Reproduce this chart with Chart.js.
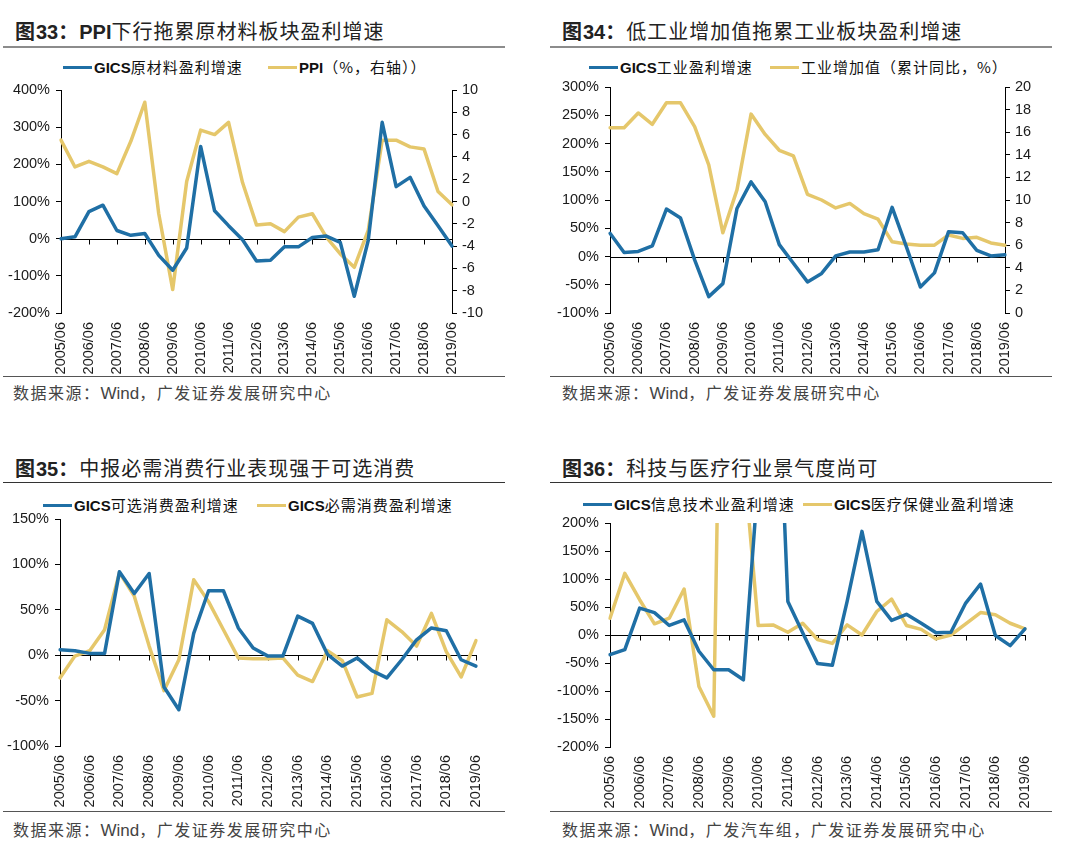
<!DOCTYPE html>
<html><head><meta charset="utf-8">
<script src="https://cdn.jsdelivr.net/npm/chart.js@4.4.1/dist/chart.umd.min.js"></script>
<style>
body{margin:0;background:#fff;width:1080px;height:856px;position:relative;overflow:hidden;font-family:"Liberation Sans",Arial,sans-serif;}
.t{position:absolute;font-size:20px;line-height:24px;color:#222;white-space:nowrap;font-family:"Noto Sans CJK SC",sans-serif;letter-spacing:1px;}
.t .b{font-weight:bold;}
.t .a{font-family:"Liberation Sans",Arial,sans-serif;font-weight:bold;letter-spacing:0;}
.rule{position:absolute;height:0;}
.lg{position:absolute;font-size:15px;line-height:20px;color:#111;white-space:nowrap;font-family:"Noto Sans CJK SC",sans-serif;letter-spacing:1px;}
.lg .a{font-family:"Liberation Sans",Arial,sans-serif;font-weight:bold;letter-spacing:0;}
.sw{display:inline-block;width:29px;height:3px;vertical-align:middle;margin-right:2px;position:relative;top:-1px;}
.src{position:absolute;font-size:16px;line-height:20px;color:#444;white-space:nowrap;font-family:"Noto Sans CJK SC",sans-serif;letter-spacing:1.5px;}
.src .a{font-family:"Liberation Sans",Arial,sans-serif;letter-spacing:0;font-size:17px;}
canvas{position:absolute;}
</style></head><body>

<div class="t" style="left:15px;top:19px"><span class="b">图</span><span class="a">33</span><span class="b">：</span><span class="a">PPI</span>下行拖累原材料板块盈利增速</div>
<div class="rule" style="left:3px;top:46px;width:502px;border-top:2px solid #8c8c8c"></div>
<div class="lg" style="left:63px;top:57px"><span class="sw" style="background:#1F6FA5"></span><span class="a">GICS</span>原材料盈利增速</div>
<div class="lg" style="left:268px;top:57px"><span class="sw" style="background:#E5C76B"></span><span class="a">PPI</span>（%，右轴））</div>
<div class="rule" style="left:3px;top:376px;width:502px;border-top:1px solid #555"></div>
<div class="src" style="left:13px;top:382px">数据来源：<span class="a">Wind</span>，广发证券发展研究中心</div>

<div class="t" style="left:562px;top:19px"><span class="b">图</span><span class="a">34</span><span class="b">：</span>低工业增加值拖累工业板块盈利增速</div>
<div class="rule" style="left:550px;top:46px;width:502px;border-top:2px solid #8c8c8c"></div>
<div class="lg" style="left:589px;top:57px"><span class="sw" style="background:#1F6FA5"></span><span class="a">GICS</span>工业盈利增速</div>
<div class="lg" style="left:770px;top:57px"><span class="sw" style="background:#E5C76B"></span>工业增加值（累计同比，%）</div>
<div class="rule" style="left:550px;top:376px;width:502px;border-top:1px solid #555"></div>
<div class="src" style="left:562px;top:382px">数据来源：<span class="a">Wind</span>，广发证券发展研究中心</div>

<div class="t" style="left:15px;top:456px"><span class="b">图</span><span class="a">35</span><span class="b">：</span>中报必需消费行业表现强于可选消费</div>
<div class="rule" style="left:3px;top:482px;width:502px;border-top:1px solid #333"></div>
<div class="lg" style="left:43px;top:495px"><span class="sw" style="background:#1F6FA5"></span><span class="a">GICS</span>可选消费盈利增速</div>
<div class="lg" style="left:257px;top:495px"><span class="sw" style="background:#E5C76B"></span><span class="a">GICS</span>必需消费盈利增速</div>
<div class="rule" style="left:3px;top:811px;width:502px;border-top:1px solid #555"></div>
<div class="src" style="left:13px;top:819px">数据来源：<span class="a">Wind</span>，广发证券发展研究中心</div>

<div class="t" style="left:562px;top:456px"><span class="b">图</span><span class="a">36</span><span class="b">：</span>科技与医疗行业景气度尚可</div>
<div class="rule" style="left:550px;top:482px;width:502px;border-top:1px solid #333"></div>
<div class="lg" style="left:583px;top:494px"><span class="sw" style="background:#1F6FA5"></span><span class="a">GICS</span>信息技术业盈利增速</div>
<div class="lg" style="left:803px;top:494px"><span class="sw" style="background:#E5C76B"></span><span class="a">GICS</span>医疗保健业盈利增速</div>
<div class="rule" style="left:550px;top:811px;width:502px;border-top:1px solid #555"></div>
<div class="src" style="left:562px;top:819px">数据来源：<span class="a">Wind</span>，广发汽车组，广发证券发展研究中心</div>

<canvas id="c1" width="500" height="303" style="left:0px;top:75px"></canvas>
<canvas id="c2" width="505" height="306" style="left:545px;top:72px"></canvas>
<canvas id="c3" width="505" height="307" style="left:0px;top:504px"></canvas>
<canvas id="c4" width="515" height="304" style="left:545px;top:508px"></canvas>

<script>
// ---- data ----
const categories = ["2005/06","2005/12","2006/06","2006/12","2007/06","2007/12","2008/06","2008/12","2009/06","2009/12",
  "2010/06","2010/12","2011/06","2011/12","2012/06","2012/12","2013/06","2013/12","2014/06","2014/12",
  "2015/06","2015/12","2016/06","2016/12","2017/06","2017/12","2018/06","2018/12","2019/06"];

// 图33
const materialsProfit = [0,5,73,90,22,9,14,-45,-85,-25,248,75,35,-3,-60,-58,-22,-22,3,7,-10,-155,-5,313,140,165,88,35,-20];
const ppi = [5.5,3.1,3.6,3.1,2.5,5.4,8.9,-1.1,-7.9,1.8,6.4,6.0,7.1,1.7,-2.1,-2.0,-2.7,-1.4,-1.1,-3.2,-4.7,-5.9,-2.6,5.5,5.5,4.9,4.7,0.9,-0.3];
// 图34
const industrialProfit = [41,7,9,19,84,68,-6,-71,-48,85,132,97,21,-12,-45,-30,1,8,8,12,87,18,-54,-29,44,42,11,1,3];
const industrialValueAdded = [16.4,16.4,17.7,16.7,18.6,18.6,16.5,13.1,7.1,10.9,17.6,15.8,14.4,13.9,10.5,10.0,9.3,9.7,8.8,8.3,6.3,6.1,6.0,6.0,6.9,6.6,6.7,6.2,6.0];
// 图35
const discretionaryProfit = [6,5,2,2,92,68,90,-35,-60,24,71,71,30,8,-1,-1,43,35,1,-12,-3,-17,-25,-5,17,30,27,-5,-12];
const staplesProfit = [-25,-1,5,28,91,65,10,-39,-5,83,59,28,-3,-4,-4,-3,-22,-29,5,-6,-46,-42,39,26,10,46,4,-24,16];
// 图36
const itProfit = [-35,-26,48,40,17,27,-29,-62,-62,-80,280,700,60,4,-51,-54,60,185,60,26,37,21,4,5,57,91,-1,-19,11];
const healthProfit = [30,110,63,20,30,82,-92,-145,1400,320,17,18,5,21,-8,-15,18,0,42,64,17,10,-7,0,20,40,36,21,11];

// tick settings
const axes = {
  c1: {left:[-200,400,100], right:[-10,10,2]},
  c2: {left:[-100,300,50], right:[0,20,2]},
  c3: {left:[-100,150,50]},
  c4: {left:[-200,200,50]}
};

const BLUE = '#1F6FA5', YELLOW = '#E5C76B';

const zeroLine = {
  id:'zeroLine',
  beforeDatasetsDraw(chart){
    const {ctx, chartArea:a, scales} = chart;
    const x = scales.x, y = scales.y;
    const py = Math.round(y.getPixelForValue(0)) + 0.5;
    ctx.save();
    ctx.strokeStyle = '#000'; ctx.lineWidth = 1;
    ctx.beginPath();
    ctx.moveTo(a.left, py); ctx.lineTo(a.right + 1, py);
    for (let i = 0; i < categories.length; i += 2) {
      const px = Math.round(x.getPixelForValue(i)) + 0.5;
      ctx.moveTo(px, py); ctx.lineTo(px, py + 5);
    }
    ctx.stroke();
    ctx.restore();
  }
};

const tickFont = {family:'Arial, "Liberation Sans", sans-serif', size:14.5};

function makeChart(id, s1, s2, leftW, rightW, padTop, rightPad) {
  const ax = axes[id];
  const scales = {
    x: {
      type:'category', offset:false,
      grid:{display:false, drawTicks:false}, border:{display:false},
      ticks:{autoSkip:false, maxRotation:90, minRotation:90, padding:9, font:tickFont, color:'#1a1a1a',
        callback:(v,i)=> i%2===0 ? categories[i] : ''},
      afterFit: s => { s.height = 65; }
    },
    y: {
      position:'left', min:ax.left[0], max:ax.left[1],
      grid:{drawOnChartArea:false, drawTicks:true, tickLength:5, color:'#000'},
      border:{display:true, color:'#000', width:1},
      ticks:{stepSize:ax.left[2], padding:6, font:tickFont, color:'#1a1a1a', callback:v=>v+'%'},
      afterFit: s => { s.width = leftW; }
    }
  };
  const ds = [
    {label:'a', data:s1, borderColor:BLUE, yAxisID:'y'},
    {label:'b', data:s2, borderColor:YELLOW, yAxisID: ax.right ? 'y1' : 'y'}
  ];
  if (ax.right) {
    scales.y1 = {
      position:'right', min:ax.right[0], max:ax.right[1],
      grid:{drawOnChartArea:false, drawTicks:true, tickLength:5, color:'#000'},
      border:{display:true, color:'#000', width:1},
      ticks:{stepSize:ax.right[2], padding:5, font:tickFont, color:'#1a1a1a'},
      afterFit: s => { s.width = rightW; }
    };
  }
  ds.forEach(d => Object.assign(d, {borderWidth:3.5, pointRadius:0, tension:0, borderJoinStyle:'round', borderCapStyle:'round', fill:false}));
  ds[0].order = 0; ds[1].order = 1;
  new Chart(document.getElementById(id), {
    type:'line',
    data:{labels:categories, datasets:ds},
    options:{
      responsive:false, animation:false,
      layout:{padding:{top:padTop, right:rightPad, left:0, bottom:0}},
      plugins:{legend:{display:false}, tooltip:{enabled:false}},
      scales
    },
    plugins:[zeroLine]
  });
}

makeChart('c1', materialsProfit, ppi, 61, 48, 15, 0);
makeChart('c2', industrialProfit, industrialValueAdded, 65, 45, 15, 0);
makeChart('c3', discretionaryProfit, staplesProfit, 60, 0, 15, 29);
makeChart('c4', itProfit, healthProfit, 65, 0, 15, 35);
</script>
</body></html>
